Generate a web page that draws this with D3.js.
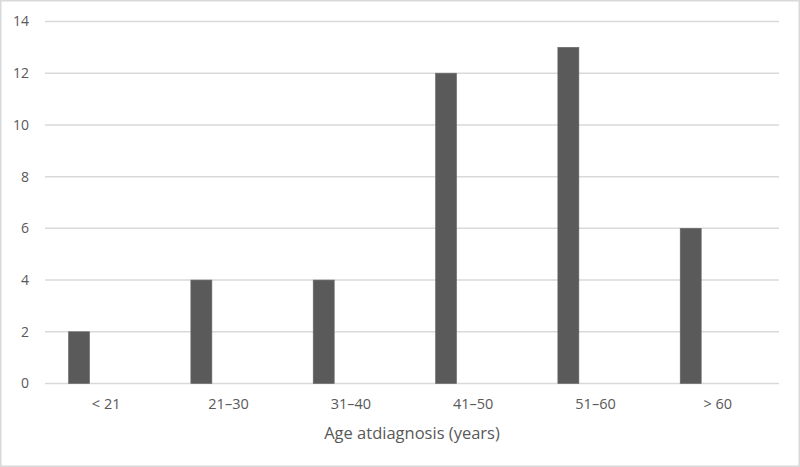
<!DOCTYPE html>
<html><head><meta charset="utf-8">
<script src="https://cdn.jsdelivr.net/npm/d3@7"></script>
<style>body{margin:0;background:#fff}svg{display:block}</style>
</head><body>
<svg id="c" width="800" height="467"></svg>
<script>
const categories = ["< 21", "21–30", "31–40", "41–50", "51–60", "> 60"];
const counts = [2, 4, 4, 12, 13, 6];
const yTicks = [0, 2, 4, 6, 8, 10, 12, 14];
const xTitle = "Age atdiagnosis (years)";

const svg = d3.select("#c");
const W = 800, H = 467;
const m = {left: 45, right: 21, top: 21.5, bottom: 83.5};
const font = "'Open Sans', sans-serif";

svg.append("rect").attr("x", 0.75).attr("y", 0.75).attr("width", W - 1.5).attr("height", H - 1.5)
  .attr("fill", "#fff").attr("stroke", "#d9d9d9").attr("stroke-width", 1.5);

const x = d3.scaleBand().domain(categories).range([m.left, W - m.right]).padding(0);
const y = d3.scaleLinear().domain([0, 14]).range([H - m.bottom, m.top]);
// inner series scale: the bar sits in the first slot of a two-slot cluster
const xs = d3.scaleBand().domain(["count", "empty"]).range([0, x.bandwidth()])
  .paddingInner(0).paddingOuter(1.912).align(0.293);

const grid = svg.append("g");
grid.selectAll("line").data(yTicks).join("line")
  .attr("x1", m.left).attr("x2", W - m.right)
  .attr("y1", d => y(d)).attr("y2", d => y(d))
  .attr("stroke", "#d9d9d9").attr("stroke-width", 1.5);

const yAxis = svg.append("g").attr("transform", `translate(${m.left},0)`)
  .call(d3.axisLeft(y).tickValues(yTicks).tickSize(0).tickPadding(16));
yAxis.select(".domain").remove();
yAxis.selectAll("text").attr("font-family", font).attr("font-size", 14).attr("fill", "#595959");

svg.append("g").selectAll("rect").data(counts).join("rect")
  .attr("x", (d, i) => x(categories[i]) + xs("count"))
  .attr("width", xs.bandwidth())
  .attr("y", d => y(d)).attr("height", d => y(0) - y(d))
  .attr("fill", "#5a5a5a").attr("stroke", "#666").attr("stroke-width", 0.6);

const xAxis = svg.append("g").attr("transform", `translate(0,${y(0)})`)
  .call(d3.axisBottom(x).tickSize(0).tickPadding(15));
xAxis.select(".domain").remove();
xAxis.selectAll("text").attr("font-family", font).attr("font-size", 14.5).attr("fill", "#595959");

svg.append("text").attr("x", (m.left + W - m.right) / 2).attr("y", 438.5)
  .attr("text-anchor", "middle").attr("font-family", font).attr("font-size", 16.5)
  .attr("fill", "#595959").text(xTitle);
</script>
</body></html>
